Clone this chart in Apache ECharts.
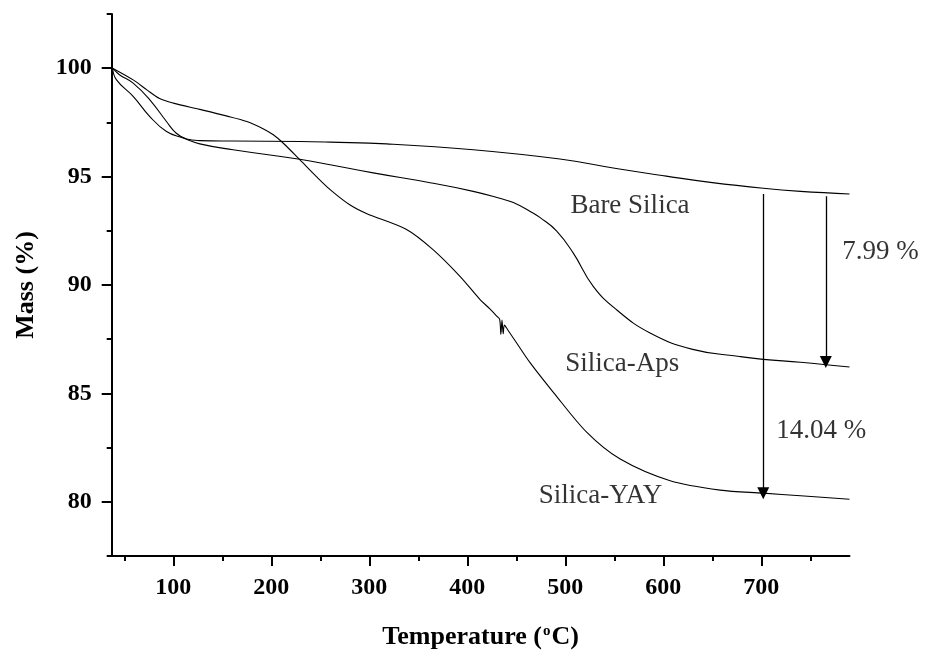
<!DOCTYPE html>
<html><head><meta charset="utf-8">
<script src="https://cdn.jsdelivr.net/npm/echarts@6/dist/echarts.min.js"></script>
<style>html,body{margin:0;padding:0;background:#fff}#c{width:925px;height:655px}</style>
</head><body><div id="c"></div>
<script>
// ---- data ----
const bareSilica = [[38,100],[45,99.7],[59,99.31],[76,98.54],[93,97.54],[103,97.0],[113.6,96.73],[127,96.66],[160,96.64],[229,96.62],[260,96.59],[317.6,96.51],[406,96.24],[494.5,95.81],[552,95.37],[603,95.02],[650,94.72],[702,94.46],[740,94.32],[790,94.2]];
const silicaAps = [[38,100],[42,99.46],[59,98.7],[76,97.77],[93,97.08],[110,96.78],[127,96.51],[161,96.24],[229,95.8],[260,95.55],[304,95.17],[362,94.72],[406,94.32],[433,94.0],[447,93.8],[467,93.32],[474,93.12],[491,92.5],[508,91.48],[528.5,89.94],[552,88.87],[586,87.8],[630,87.03],[678,86.7],[702,86.57],[740,86.44],[790,86.22]];
const silicaYAY = [[38,100],[59,99.46],[73,99.0],[86,98.6],[100,98.39],[127,98.1],[154,97.8],[175,97.54],[192,97.2],[202,96.93],[212,96.55],[229,95.78],[246,95.0],[260,94.4],[280,93.7],[297,93.3],[338,92.56],[365,91.63],[392.5,90.4],[413,89.33],[423,88.9],[430,88.56],[433,88.42],[434.2,87.72],[435.4,88.38],[436.6,87.75],[437.8,88.15],[441,87.95],[450,87.35],[464,86.42],[488,85.04],[522,83.2],[556,81.97],[607,80.97],[658,80.54],[702,80.4],[740,80.28],[790,80.12]];
const xTicks = [100,200,300,400,500,600,700];
const xMinorTicks = [50,150,250,350,450,550,650,750];
const yTicks = [80,85,90,95,100];
const yMinorTicks = [77.5,82.5,87.5,92.5,97.5,102.5];
const curveLabels = [[566,93.66,'Bare Silica'],[558,86.36,'Silica-Aps'],[536,80.26,'Silica-YAY'],[821.6,91.52,'7.99 %'],[761.2,83.27,'14.04 %']];
const arrows = [[[702,94.2],[702,80.4]],[[765.8,94.09],[765.8,86.45]]];
const xRange = [37.1, 790];
const yRange = [77.5, 102.5];

const FONT = "'Liberation Serif','Times New Roman',serif";
const chart = echarts.init(document.getElementById('c'), null, {renderer:'canvas'});

function curve(name, data, smooth){
  return {name, type:'line', data, symbol:'none', smooth:smooth,
    lineStyle:{color:'#000', width:1.1}, silent:true, xAxisIndex:0, yAxisIndex:0};
}

chart.setOption({
  animation:false,
  backgroundColor:'#fff',
  grid:{left:111.7, right:75.5, top:14, bottom:99, containLabel:false},
  xAxis:[{
    type:'value', min:xRange[0], max:xRange[1], position:'bottom',
    axisLine:{show:true, onZero:false, lineStyle:{color:'#000', width:2}},
    axisTick:{show:true, customValues:xTicks, length:10, lineStyle:{color:'#000', width:2}},
    axisLabel:{show:true, customValues:xTicks, margin:20, color:'#000', fontSize:24, fontWeight:'bold', fontFamily:FONT},
    splitLine:{show:false},
    name:'{t|Temperature (}{s|o}{t|C)}', nameLocation:'middle', nameGap:68,
    nameTextStyle:{rich:{
      t:{fontSize:26, fontWeight:'bold', fontFamily:FONT, color:'#000', lineHeight:26},
      s:{fontSize:15, fontWeight:'bold', fontFamily:FONT, color:'#000', verticalAlign:'top', lineHeight:26, padding:[0,1,8,1]}
    }}
  },{
    type:'value', min:xRange[0], max:xRange[1], position:'bottom',
    axisLine:{show:false},
    axisTick:{show:true, customValues:xMinorTicks, length:5, lineStyle:{color:'#000', width:2}},
    axisLabel:{show:false}, splitLine:{show:false}
  }],
  yAxis:[{
    type:'value', min:yRange[0], max:yRange[1], position:'left',
    axisLine:{show:true, onZero:false, lineStyle:{color:'#000', width:2}},
    axisTick:{show:true, customValues:yTicks, length:10, lineStyle:{color:'#000', width:2}},
    axisLabel:{show:true, customValues:yTicks, margin:20, color:'#000', fontSize:24, fontWeight:'bold', fontFamily:FONT},
    splitLine:{show:false},
    name:'Mass (%)', nameLocation:'middle', nameGap:72, nameRotate:90,
    nameTextStyle:{fontSize:26, fontWeight:'bold', fontFamily:FONT, color:'#000'}
  },{
    type:'value', min:yRange[0], max:yRange[1], position:'left',
    axisLine:{show:false},
    axisTick:{show:true, customValues:yMinorTicks, length:5, lineStyle:{color:'#000', width:2}},
    axisLabel:{show:false}, splitLine:{show:false}
  }],
  series:[
    curve('Bare Silica', bareSilica, 0.45),
    curve('Silica-Aps', silicaAps, 0.45),
    curve('Silica-YAY', silicaYAY, 0.3),
    {type:'lines', coordinateSystem:'cartesian2d', xAxisIndex:0, yAxisIndex:0, silent:true,
     symbol:['none','triangle'], symbolSize:[6,12],
     lineStyle:{color:'#000', width:1.3, opacity:1},
     itemStyle:{color:'#000'},
     data: arrows.map(a => ({coords:a}))},
    {type:'scatter', xAxisIndex:0, yAxisIndex:0, clip:false, silent:true,
     symbolSize:1, itemStyle:{color:'rgba(0,0,0,0)'},
     label:{show:true, position:'inside', formatter:p=>p.value[2], color:'#000', fontSize:27, fontFamily:FONT},
     data: curveLabels}
  ]
});
</script></body></html>
